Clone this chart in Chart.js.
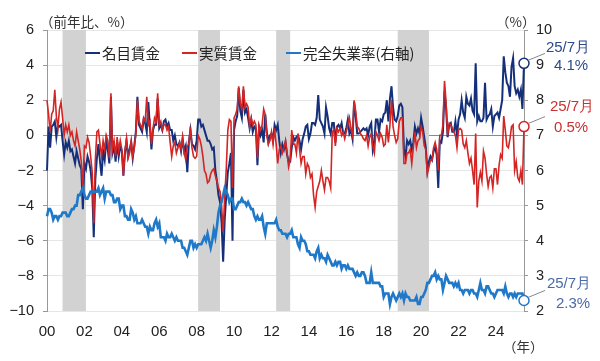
<!DOCTYPE html>
<html>
<head>
<meta charset="utf-8">
<script src="https://cdn.jsdelivr.net/npm/chart.js@4/dist/chart.umd.min.js"></script>
<style>
  html, body { margin: 0; padding: 0; background: #fff; }
  #wrap { width: 600px; height: 361px; }
</style>
</head>
<body>
<div id="wrap"><canvas id="c" width="600" height="361"></canvas></div>
<script>
// monthly, Jan 2000 .. Jul 2025
const startYear = 2000;

// 名目賃金 (前年比, %)
const nominalWage = [
  -2.0, 0.5, -0.7, 0.5, 0.6, 0.8, -0.1, 0.6, 0.5, 0.6, -0.3, -1.1,
  -0.4, -0.7, -0.3, -0.9, -0.8, -1.2, -1.6, -0.9, -1.3, -1.7, -1.9, -4.2,
  -1.6, -1.9, -1.2, -1.5, -2.0, -3.0, -5.8, -2.5, -1.3, -0.5, -1.5, -2.3,
  -0.9, -1.4, -0.3, -0.8, -1.6, 2.2, -1.0, -0.6, -1.5, -0.4, -1.2, -0.6,
  -0.9, -2.3, -1.0, -0.3, -1.2, -0.8, -0.4, -1.3, -0.6, 0.2, 2.2, 0.6,
  0.4, 0.2, 0.9, 0.7, 0.2, 1.9, 0.5, -0.8, 0.3, 0.6, 0.6, 2.1,
  0.4, 0.6, 0.3, 0.8, 0.9, 0.5, 0.7, 0.3, 0.3, -0.3, 0.0, -0.5,
  -0.6, -0.4, -0.9, -0.2, -0.9, -0.6, -2.1, -0.4, 0.3, -0.5, -0.6, -0.8,
  -0.3, 0.9, 0.9, 0.5, 0.6, 0.3, 0.0, -0.3, -0.3, -0.5, -0.8, -0.7,
  -2.0, -2.6, -3.4, -3.8, -5.0, -7.2, -4.8, -3.4, -2.1, -1.6, -1.0, -6.0,
  0.3, 0.8, 1.1, 2.7, 1.4, 1.0, 2.6, 1.3, 1.5, 1.0, 0.4, 0.9,
  0.2, 0.5, 0.4, -1.7, 0.4, 0.0, 0.3, -0.4, 1.2, 0.2, -0.4, 0.0,
  0.1, -0.3, 0.6, 0.3, 0.6, -0.3, -1.0, -0.5, -0.8, -0.4, -1.1, -1.5,
  -1.5, -0.7, -0.1, -0.3, -0.1, 0.0, -0.3, -0.8, -0.2, 0.1, 0.5, 0.6,
  -0.2, 0.1, 0.7, 0.7, 0.6, 1.0, 2.3, 0.9, 0.7, 0.5, 0.1, 1.6,
  1.1, 0.4, 0.1, 0.7, 0.7, -0.4, 0.5, 0.6, 0.4, 0.7, 0.1, 0.1,
  0.4, 0.9, 0.1, 0.3, -0.2, 1.9, 1.1, 0.1, 0.1, 0.2, 0.3, 0.4,
  0.3, 0.4, 0.0, 0.5, 0.7, -0.8, -0.3, 0.9, 0.9, 0.2, 0.9, 0.8,
  1.2, 1.3, 2.0, 0.8, 2.1, 2.8, 1.6, 0.9, 0.8, 1.1, 1.7, 1.8,
  1.6, -0.8, -1.2, -0.3, -0.5, -0.3, -0.8, -0.4, 0.5, 0.1, 0.4, 0.1,
  1.0, 0.5, -0.1, -0.7, -2.0, -1.5, -1.2, -1.4, -0.9, -0.7, -1.1, -3.0,
  -0.3, -0.4, 0.2, 2.5, 1.6, -0.1, 0.6, 0.7, 0.2, 0.2, 0.8, 0.0,
  0.9, 1.2, 2.0, 1.3, 1.0, 2.2, 1.8, 1.7, 2.1, 1.4, 1.2, 4.1,
  0.8, 1.1, 0.8, 0.8, 1.0, 3.0, 0.9, 1.1, 1.2, 1.5, 0.5, 1.1,
  1.2, 1.3, 1.0, 1.5, 2.0, 4.5, 3.6, 3.0, 2.8, 2.2, 3.9, 4.4,
  2.8, 2.4, 2.6, 2.2, 2.6, 1.5, 4.1
];

// 実質賃金 (前年比, %)
const realWage = [
  2.0, 1.2, 0.2, 1.2, 1.4, 2.6, 1.1, 0.4, 1.5, 1.9, 1.0, 0.0,
  0.6, 0.2, 0.6, 0.0, 0.2, -0.3, -0.6, 0.2, -0.3, -0.8, -1.5, -3.0,
  -0.6, -0.7, -0.1, -0.4, -1.2, -2.1, -5.0, -1.4, 0.2, 0.3, -0.5, -1.2,
  -0.3, -0.8, 0.0, -0.3, -1.3, 2.4, -0.8, -0.3, -1.2, -0.1, -0.9, -0.3,
  -0.8, -2.3, -0.9, -0.2, -1.3, -1.0, -0.3, -1.2, -0.7, 0.1, 2.0, 0.8,
  0.6, 0.4, 1.0, 0.8, 2.2, 0.6, 0.8, -0.5, 0.4, 1.0, 0.8, 2.4,
  0.6, 0.8, 0.3, 0.6, 0.6, 0.3, 0.5, -0.4, -1.2, -0.6, -0.4, -1.0,
  -0.7, -0.4, -0.8, -0.1, -1.0, -1.4, -0.6, -0.5, 0.5, -0.7, -1.2, -1.3,
  -1.2, 0.0, -0.2, -0.6, -1.2, -2.0, -2.2, -2.7, -2.6, -2.2, -2.0, -1.9,
  -2.3, -2.6, -3.0, -3.2, -4.0, -5.5, -3.5, -1.9, 0.3, 0.9, 0.8, -3.0,
  1.0, 1.2, 1.5, 2.8, 1.8, 1.5, 2.8, 1.6, 1.8, 1.6, 0.5, 1.0,
  0.6, 0.8, 0.6, -1.3, 0.6, 0.3, 0.6, 1.5, 1.2, 0.0, -0.5, -0.3,
  0.2, -0.5, 0.4, -0.5, -1.6, -0.8, -0.6, -1.0, -0.7, -0.3, -1.0, -1.8,
  -1.4, 0.3, -0.5, -0.5, -1.0, 0.1, -0.8, -1.6, -1.2, -1.2, -2.2, -1.6,
  -1.8, -2.4, -2.2, -3.4, -4.1, -3.2, -2.9, -2.6, -2.0, -2.6, -3.1, -2.4,
  -2.4, -2.6, -3.0, 0.2, 0.3, -0.6, 0.4, 0.2, 0.4, 0.0, 0.2, -0.2,
  0.2, 0.6, 1.0, 0.4, 0.0, 2.0, 1.4, 0.5, 0.4, 0.1, 0.0, -0.2,
  -0.3, 0.0, -0.6, -0.1, 0.1, -0.6, -1.0, 0.2, 0.0, -0.3, 0.1, -0.1,
  -0.6, -0.5, 0.6, -0.4, 0.6, 2.0, 0.5, 0.0, -0.4, -0.2, 0.8, 1.0,
  1.0, -1.6, -1.6, -1.0, -1.0, -0.8, -1.6, -0.7, 0.2, -0.7, -0.3, -0.2,
  0.5, 0.2, -0.6, -0.8, -2.2, -1.8, -1.4, -1.4, -0.7, -0.4, -0.8, -2.0,
  0.0, 0.0, 0.6, 3.1, 1.9, 0.0, 0.7, 0.6, 0.4, 0.2, 0.0, -0.7,
  0.3, 0.4, 0.3, -0.5, -0.7, -0.3, -1.0, -1.6, -1.3, -2.0, -2.8, 0.1,
  -4.1, -2.6, -2.1, -2.6, -0.9, -1.3, -2.2, -2.9, -2.4, -2.3, -3.0, -1.9,
  -1.9, -2.8, -1.7, -1.1, -1.3, 1.1, 0.3, -0.6, -0.7, -0.2, 0.5, 0.6,
  -2.0, -1.5, -2.4, -2.6, -2.0, -2.8, 0.5
];

// 完全失業率 (%, 右軸)
const unemployment = [
  4.7, 4.9, 4.9, 4.8, 4.6, 4.7, 4.7, 4.6, 4.7, 4.7, 4.8, 4.8,
  4.8, 4.7, 4.7, 4.8, 4.9, 4.9, 5.0, 5.0, 5.3, 5.3, 5.4, 5.5,
  5.3, 5.2, 5.2, 5.3, 5.4, 5.4, 5.4, 5.4, 5.4, 5.5, 5.3, 5.4,
  5.5, 5.2, 5.4, 5.4, 5.4, 5.3, 5.3, 5.1, 5.1, 5.2, 5.2, 4.9,
  5.0, 5.0, 4.7, 4.7, 4.6, 4.6, 4.9, 4.8, 4.6, 4.7, 4.5, 4.5,
  4.5, 4.6, 4.5, 4.4, 4.4, 4.2, 4.4, 4.3, 4.3, 4.5, 4.6, 4.4,
  4.5, 4.1, 4.1, 4.1, 4.0, 4.2, 4.1, 4.1, 4.2, 4.1, 4.0, 4.1,
  4.0, 4.0, 4.0, 3.8, 3.8, 3.7, 3.6, 3.8, 4.0, 4.0, 3.8, 3.9,
  3.8, 3.9, 3.9, 3.9, 4.0, 4.1, 4.0, 4.2, 4.0, 3.8, 4.0, 4.3,
  4.1, 4.4, 4.8, 5.0, 5.1, 5.3, 5.5, 5.4, 5.3, 5.1, 5.2, 5.2,
  4.9, 4.9, 5.0, 5.1, 5.1, 5.2, 5.1, 5.1, 5.0, 5.1, 5.0, 4.9,
  4.9, 4.7, 4.6, 4.7, 4.6, 4.6, 4.7, 4.4, 4.2, 4.5, 4.5, 4.5,
  4.5, 4.5, 4.5, 4.6, 4.4, 4.3, 4.3, 4.2, 4.2, 4.2, 4.1, 4.2,
  4.2, 4.3, 4.1, 4.1, 4.1, 3.9, 3.8, 4.1, 4.0, 4.0, 3.9, 3.7,
  3.7, 3.6, 3.6, 3.6, 3.5, 3.7, 3.8, 3.5, 3.6, 3.5, 3.5, 3.4,
  3.6, 3.5, 3.4, 3.3, 3.3, 3.4, 3.3, 3.4, 3.4, 3.2, 3.3, 3.3,
  3.2, 3.3, 3.2, 3.2, 3.2, 3.1, 3.0, 3.1, 3.0, 3.0, 3.1, 3.1,
  3.0, 2.8, 2.8, 2.8, 3.1, 2.8, 2.8, 2.8, 2.8, 2.8, 2.7, 2.7,
  2.4, 2.5, 2.5, 2.5, 2.2, 2.4, 2.5, 2.4, 2.3, 2.4, 2.5, 2.4,
  2.5, 2.3, 2.5, 2.4, 2.4, 2.3, 2.3, 2.3, 2.3, 2.4, 2.2, 2.2,
  2.4, 2.4, 2.5, 2.6, 2.8, 2.8, 2.9, 3.0, 3.0, 3.1, 2.9, 3.0,
  2.9, 2.9, 2.6, 2.8, 3.0, 2.9, 2.8, 2.8, 2.8, 2.7, 2.8, 2.7,
  2.8, 2.6, 2.6, 2.5, 2.6, 2.6, 2.6, 2.5, 2.6, 2.6, 2.5, 2.5,
  2.4, 2.6, 2.8, 2.6, 2.6, 2.5, 2.7, 2.7, 2.6, 2.5, 2.5, 2.4,
  2.5, 2.6, 2.6, 2.6, 2.6, 2.5, 2.7, 2.5, 2.4, 2.5, 2.5, 2.4,
  2.5, 2.4, 2.5, 2.5, 2.5, 2.5, 2.3
];

// shaded periods (景気後退期), fractional years
const recessions = [[2000.83, 2002.08], [2008.08, 2009.25], [2012.25, 2013.0], [2018.75, 2020.42]];

const seriesNames = ["名目賃金", "実質賃金", "完全失業率(右軸)"];
const seriesColors = ["#15307a", "#d42424", "#1f78c8"];
const labelColors = ["#2c4a8c", "#cc3030", "#4a6aa8"];

const numFont = '"Liberation Sans", Arial, sans-serif';
const jpFont = '"Noto Sans CJK JP", "Liberation Sans", sans-serif';

const toPoints = arr => arr.map((v, i) => ({ x: startYear + i / 12, y: v }));
const lastIdx = nominalWage.length - 1;
const lastPointRadius = ctx => (ctx.dataIndex === lastIdx ? 5 : 0);
const minus = v => (v < 0 ? "\u2212" + Math.abs(v) : String(v));

const bandsPlugin = {
  id: "bands",
  beforeDatasetsDraw(chart) {
    const { ctx, chartArea: a, scales: { x } } = chart;
    ctx.save();
    ctx.fillStyle = "#d2d2d2";
    recessions.forEach(([s, e]) => {
      const x0 = x.getPixelForValue(s), x1 = x.getPixelForValue(e);
      ctx.fillRect(x0, a.top, x1 - x0, a.bottom - a.top);
    });
    ctx.restore();
  }
};

// per-series last value callouts: [text1 dx, text1 dy, text2 dx, text2 dy]
const callouts = [
  { ds: 0, t1: [44, -16], t2: [47, 2] },
  { ds: 1, t1: [48, -20], t2: [47, 1] },
  { ds: 2, t1: [45, -17], t2: [49, 3] }
];

const decorPlugin = {
  id: "decor",
  afterDraw(chart) {
    const { ctx } = chart;
    ctx.save();
    ctx.textBaseline = "middle";

    // legend
    const legendX = [85, 182, 286];
    seriesNames.forEach((name, i) => {
      ctx.strokeStyle = seriesColors[i];
      ctx.lineWidth = 2;
      ctx.beginPath();
      ctx.moveTo(legendX[i], 53);
      ctx.lineTo(legendX[i] + 15, 53);
      ctx.stroke();
      ctx.fillStyle = "#222";
      ctx.font = "14.5px " + jpFont;
      ctx.textAlign = "left";
      ctx.fillText(name, legendX[i] + 17, 53);
    });

    // axis titles
    ctx.fillStyle = "#333";
    ctx.font = "13.5px " + jpFont;
    ctx.textAlign = "left";
    ctx.fillText("（前年比、%）", 40, 22);
    ctx.fillText("（%）", 496, 22);
    ctx.fillText("（年）", 503, 347);

    // callouts at last observation
    const d = new Date(startYear, lastIdx, 1);
    const stamp = (d.getFullYear() % 100) + "/" + (d.getMonth() + 1) + "月";
    callouts.forEach(c => {
      const meta = chart.getDatasetMeta(c.ds);
      const p = meta.data[lastIdx];
      const v = chart.data.datasets[c.ds].data[lastIdx].y;
      ctx.strokeStyle = "#888";
      ctx.lineWidth = 1;
      ctx.beginPath();
      ctx.moveTo(p.x + 4, p.y - 3);
      ctx.lineTo(p.x + 21, p.y - 10);
      ctx.stroke();
      ctx.fillStyle = labelColors[c.ds];
      ctx.font = "15px " + numFont;
      ctx.textAlign = "center";
      ctx.fillText(stamp, p.x + c.t1[0], p.y + c.t1[1]);
      ctx.fillText(v.toFixed(1) + "%", p.x + c.t2[0], p.y + c.t2[1]);
    });
    ctx.restore();
  }
};

const lineDs = (label, arr, i, width, axis) => ({
  label,
  data: toPoints(arr),
  yAxisID: axis,
  borderColor: seriesColors[i],
  borderWidth: width,
  pointRadius: lastPointRadius,
  pointHoverRadius: 0,
  pointBackgroundColor: "#fff",
  pointBorderColor: seriesColors[i],
  pointBorderWidth: 1.5,
  tension: 0,
  clip: 12
});

new Chart(document.getElementById("c"), {
  type: "line",
  data: {
    datasets: [
      Object.assign(lineDs(seriesNames[0], nominalWage, 0, 2, "y"), { order: 3 }),
      Object.assign(lineDs(seriesNames[1], realWage, 1, 1.6, "y"), { order: 2 }),
      Object.assign(lineDs(seriesNames[2], unemployment, 2, 2.6, "y1"), { order: 1 })
    ]
  },
  options: {
    responsive: false,
    animation: false,
    events: [],
    layout: { padding: { top: 30 } },
    plugins: { legend: { display: false }, tooltip: { enabled: false } },
    scales: {
      x: {
        type: "linear",
        min: 2000,
        max: 2025.5,
        grid: { display: false, drawTicks: false },
        border: { display: false },
        ticks: {
          stepSize: 2,
          includeBounds: false,
          autoSkip: false,
          maxRotation: 0,
          padding: 12,
          color: "#222",
          font: { family: numFont, size: 15 },
          callback: v => String(v % 100).padStart(2, "0")
        },
        afterFit: s => { s.height = 50; }
      },
      y: {
        position: "left",
        min: -10,
        max: 6,
        grid: {
          color: c => (c.tick && c.tick.value === 0 ? "#8a8a8a" : "#e6e6e6"),
          tickColor: "#999",
          tickLength: 4
        },
        border: { color: "#999" },
        ticks: {
          stepSize: 2,
          padding: 9,
          color: "#222",
          font: { family: numFont, size: 14.5 },
          callback: minus
        },
        afterFit: s => { s.width = 47; }
      },
      y1: {
        position: "right",
        min: 2,
        max: 10,
        grid: { drawOnChartArea: false, tickColor: "#999", tickLength: 4 },
        border: { color: "#999" },
        ticks: {
          stepSize: 1,
          padding: 8,
          color: "#222",
          font: { family: numFont, size: 14.5 }
        },
        afterFit: s => { s.width = 76; }
      }
    }
  },
  plugins: [bandsPlugin, decorPlugin]
});
</script>
</body>
</html>
